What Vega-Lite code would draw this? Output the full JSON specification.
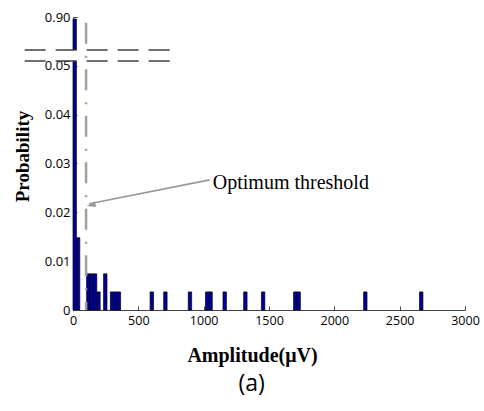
{
  "$schema": "https://vega.github.io/schema/vega-lite/v6.json",
  "width": 392,
  "height": 293,
  "autosize": "none",
  "padding": {"left": 73, "top": 17, "right": 19, "bottom": 101},
  "background": "white",
  "config": {"view": {"stroke": null}, "axis": {"grid": false}},
  "resolve": {"scale": {"y": "independent"}, "axis": {"y": "independent"}},
  "datasets": {
    "bars": [
      {"x0": 0, "x1": 26, "p": 0.865},
      {"x0": 26, "x1": 52, "p": 0.0148},
      {"x0": 104, "x1": 130, "p": 0.0074},
      {"x0": 130, "x1": 156, "p": 0.0074},
      {"x0": 156, "x1": 182, "p": 0.0074},
      {"x0": 182, "x1": 208, "p": 0.0037},
      {"x0": 234, "x1": 260, "p": 0.0074},
      {"x0": 286, "x1": 312, "p": 0.0037},
      {"x0": 312, "x1": 338, "p": 0.0037},
      {"x0": 338, "x1": 364, "p": 0.0037},
      {"x0": 590, "x1": 616, "p": 0.0037},
      {"x0": 694, "x1": 720, "p": 0.0037},
      {"x0": 882, "x1": 908, "p": 0.0037},
      {"x0": 1014, "x1": 1040, "p": 0.0037},
      {"x0": 1040, "x1": 1066, "p": 0.0037},
      {"x0": 1148, "x1": 1174, "p": 0.0037},
      {"x0": 1306, "x1": 1332, "p": 0.0037},
      {"x0": 1442, "x1": 1468, "p": 0.0037},
      {"x0": 1688, "x1": 1714, "p": 0.0037},
      {"x0": 1714, "x1": 1740, "p": 0.0037},
      {"x0": 2224, "x1": 2250, "p": 0.0037},
      {"x0": 2652, "x1": 2678, "p": 0.0037}
    ],
    "breaks": [{"yb": 0.325}, {"yb": 0.1336}],
    "one": [{"k": 1}]
  },
  "layer": [
    {
      "data": {"name": "bars"},
      "mark": {"type": "bar", "fill": "#00009c", "stroke": "#000000", "strokeWidth": 0.7},
      "encoding": {
        "x": {
          "field": "x0", "type": "quantitative",
          "scale": {"domain": [0, 3000], "nice": false, "zero": false},
          "axis": {
            "values": [0, 500, 1000, 1500, 2000, 2500, 3000],
            "format": "d",
            "title": "Amplitude(μV)",
            "titleFont": "Liberation Serif", "titleFontWeight": "bold", "titleFontSize": 20,
            "titleColor": "#000",
            "titleX": 179, "titleY": 45, "titleBaseline": "middle", "titleAlign": "center",
            "labelFont": "Open Sans", "labelFontSize": 12.5, "labelColor": "#000",
            "labelFlush": false, "labelOverlap": false,
            "tickSize": -4, "tickColor": "#444", "domainColor": "#444", "labelPadding": 8
          }
        },
        "x2": {"field": "x1"},
        "y": {
          "field": "p", "type": "quantitative",
          "scale": {"domain": [0, 0.05, 0.9], "range": [293, 48.8, 0], "nice": false},
          "axis": {
            "values": [0, 0.01, 0.02, 0.03, 0.04, 0.05, 0.9],
            "labelExpr": "datum.value == 0 ? '0' : format(datum.value, '.2f')",
            "title": "Probability",
            "titleFont": "Liberation Serif", "titleFontWeight": "bold", "titleFontSize": 19,
            "titleColor": "#000",
            "titleX": -51, "titleY": 139, "titleBaseline": "middle", "titleAlign": "center", "titleAngle": 270,
            "labelFont": "Open Sans", "labelFontSize": 13, "labelColor": "#000",
            "labelFlush": false, "labelOverlap": false,
            "tickSize": -4, "tickColor": "#444", "domainColor": "#444", "labelPadding": 7
          }
        },
        "y2": {"datum": 0}
      }
    },
    {
      "data": {"name": "one"},
      "mark": {"type": "rect", "fill": "white"},
      "encoding": {
        "x": {"datum": -370, "type": "quantitative"},
        "x2": {"datum": 755},
        "y": {"datum": 0.325, "type": "quantitative", "axis": null, "scale": {"domain": [0, 0.05, 0.9], "range": [293, 48.8, 0], "nice": false}},
        "y2": {"datum": 0.1336}
      }
    },
    {
      "data": {"name": "one"},
      "mark": {"type": "rule", "color": "#a0a0a0", "strokeWidth": 2.5, "strokeDash": [21, 12, 2, 11.5]},
      "encoding": {
        "x": {"datum": 100, "type": "quantitative"},
        "y": {"datum": 0.8, "type": "quantitative", "axis": null, "scale": {"domain": [0, 0.05, 0.9], "range": [293, 48.8, 0], "nice": false}},
        "y2": {"datum": 0}
      }
    },
    {
      "data": {"name": "breaks"},
      "mark": {"type": "rule", "color": "#404040", "strokeWidth": 1.6, "strokeDash": [21, 10]},
      "encoding": {
        "x": {"datum": -370, "type": "quantitative"},
        "x2": {"datum": 755},
        "y": {"field": "yb", "type": "quantitative", "axis": null, "scale": {"domain": [0, 0.05, 0.9], "range": [293, 48.8, 0], "nice": false}}
      }
    },
    {
      "data": {"name": "one"},
      "mark": {"type": "rule", "color": "#999999", "strokeWidth": 1.6},
      "encoding": {
        "x": {"datum": 1046, "type": "quantitative"},
        "x2": {"datum": 125},
        "y": {"datum": 0.02664, "type": "quantitative", "axis": null, "scale": {"domain": [0, 0.05, 0.9], "range": [293, 48.8, 0], "nice": false}},
        "y2": {"datum": 0.02174}
      }
    },
    {
      "data": {"name": "one"},
      "mark": {"type": "point", "shape": "M0,0L2,-0.65L2,0.65Z", "filled": true, "fill": "#999999", "stroke": null, "size": 81, "angle": 348, "opacity": 1},
      "encoding": {
        "x": {"datum": 105, "type": "quantitative"},
        "y": {"datum": 0.0213, "type": "quantitative", "axis": null, "scale": {"domain": [0, 0.05, 0.9], "range": [293, 48.8, 0], "nice": false}}
      }
    },
    {
      "data": {"name": "one"},
      "mark": {"type": "text", "text": "Optimum threshold", "font": "Liberation Serif", "fontSize": 20, "align": "left", "baseline": "middle", "color": "#000"},
      "encoding": {
        "x": {"datum": 1070, "type": "quantitative"},
        "y": {"datum": 0.026, "type": "quantitative", "axis": null, "scale": {"domain": [0, 0.05, 0.9], "range": [293, 48.8, 0], "nice": false}}
      }
    },
    {
      "data": {"name": "one"},
      "mark": {"type": "text", "text": "(a)", "font": "Open Sans", "fontSize": 23, "align": "center", "baseline": "middle", "color": "#000"},
      "encoding": {
        "x": {"datum": 1367, "type": "quantitative"},
        "y": {"datum": -0.0151, "type": "quantitative", "axis": null, "scale": {"domain": [0, 0.05, 0.9], "range": [293, 48.8, 0], "nice": false}}
      }
    }
  ]
}
